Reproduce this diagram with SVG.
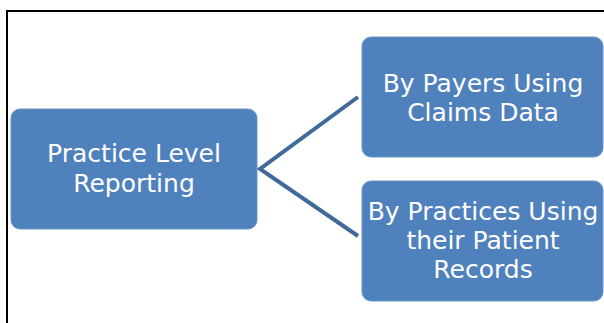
<svg xmlns="http://www.w3.org/2000/svg" width="604" height="323" viewBox="0 0 604 323">
<style>
.box{fill:#4f81bd;stroke:#6a94c8;stroke-width:1}
.t{font-family:"DejaVu Sans",sans-serif;font-size:25px;fill:#ffffff;text-anchor:middle}
.c{stroke:#3f6a9a;stroke-width:4;fill:none;stroke-linejoin:miter}
</style>
<rect width="604" height="323" fill="#ffffff"/>
<path d="M7,323 V11 H604" fill="none" stroke="#000000" stroke-width="2"/>
<g id="connectors">
<path class="c" d="M358,97 L260,169 L358,236"/>
</g>
<g id="node-practice">
<rect class="box" x="11" y="109" width="246" height="120" rx="9"/>
<text class="t" x="134" y="162">Practice Level</text>
<text class="t" x="134" y="192">Reporting</text>
</g>
<g id="node-payers">
<rect class="box" x="362" y="37" width="241" height="120" rx="9"/>
<text class="t" x="483" y="92">By Payers Using</text>
<text class="t" x="483" y="121">Claims Data</text>
</g>
<g id="node-practices">
<rect class="box" x="362" y="181" width="241" height="120" rx="9"/>
<text class="t" x="483" y="220">By Practices Using</text>
<text class="t" x="483" y="249">their Patient</text>
<text class="t" x="483" y="278">Records</text>
</g>
</svg>
